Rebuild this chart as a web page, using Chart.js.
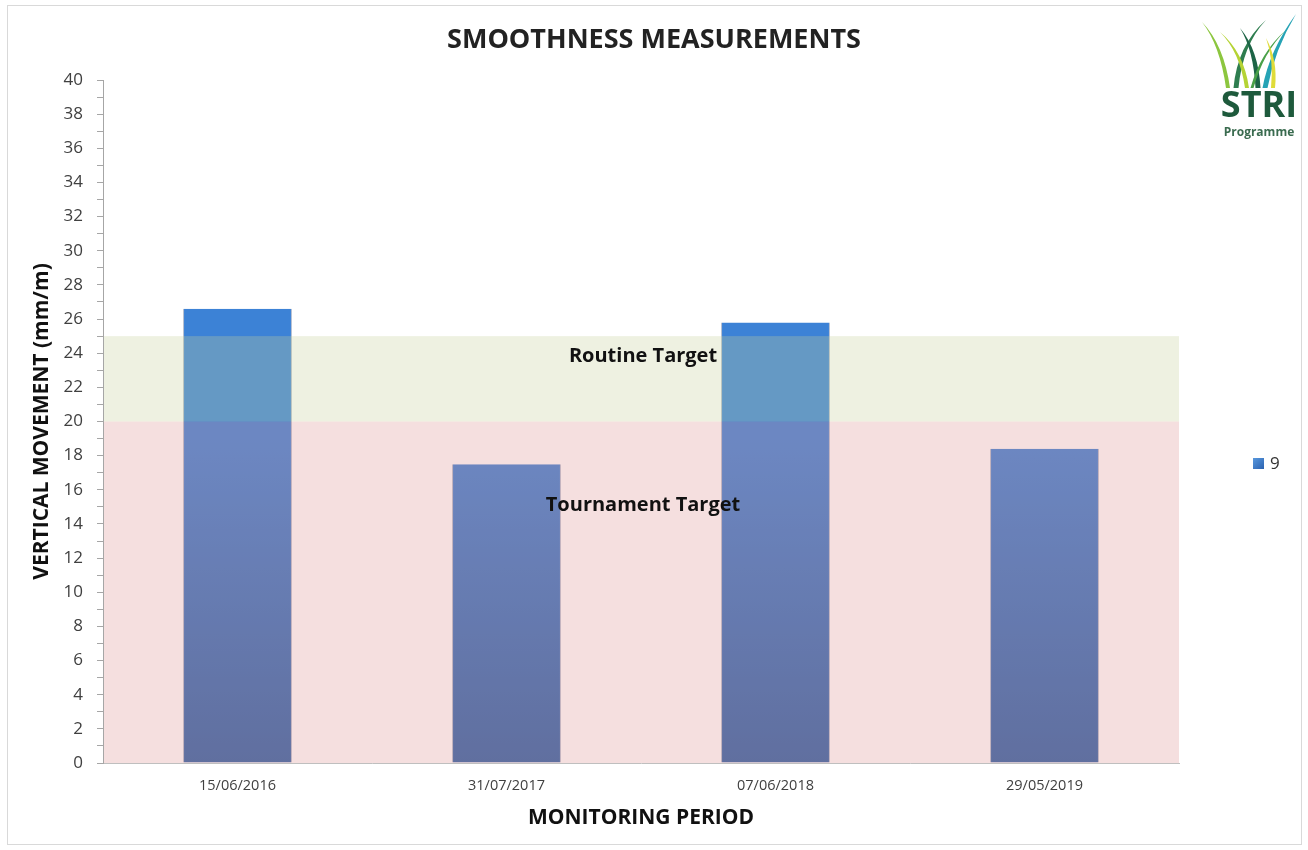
<!DOCTYPE html>
<html>
<head>
<meta charset="utf-8">
<title>Smoothness Measurements</title>
<script src="https://cdn.jsdelivr.net/npm/chart.js@4.4.1/dist/chart.umd.min.js"></script>
<style>
  html, body { margin: 0; padding: 0; background: #ffffff; }
  #wrap { width: 1308px; height: 850px; position: relative; }
  canvas { display: block; }
</style>
</head>
<body>
<div id="wrap"><canvas id="chart" width="1308" height="850"></canvas></div>
<script>
// Monitoring dates and measured vertical movement (mm/m)
const categories = ['15/06/2016', '31/07/2017', '07/06/2018', '29/05/2019'];
const seriesName = '9';
const movement = [26.6, 17.5, 25.8, 18.4];

// Target bands on the value axis
const tournamentBand = [0, 20];
const routineBand = [20, 25];
const bandLabels = ['Tournament Target', 'Routine Target'];
const bandLabelValues = [15.1, 23.8];

// Value axis range and step
const yMin = 0;
const yMax = 40;
const yLabelStep = 2;

const FONT = "'Open Sans', 'Liberation Sans', sans-serif";

// Vertical blue gradient for the bars
function barFill(context) {
  const chart = context.chart;
  const area = chart.chartArea;
  if (!area) return '#3d7ed0';
  const y = chart.scales.y;
  const g = chart.ctx.createLinearGradient(0, area.bottom, 0, y.getPixelForValue(19));
  g.addColorStop(0, '#2a5fa4');
  g.addColorStop(1, '#3c82d6');
  return g;
}

// Translucent target bands laid over the plot, plus their captions
const bandsPlugin = {
  id: 'targetBands',
  afterDatasetsDraw(chart) {
    const { ctx, chartArea: a, scales: { y } } = chart;
    const drawBand = (band, color) => {
      const top = y.getPixelForValue(band[1]);
      const bottom = y.getPixelForValue(band[0]);
      ctx.fillStyle = color;
      ctx.fillRect(a.left + 1, top, a.right - a.left - 1, bottom - top);
    };
    ctx.save();
    drawBand(tournamentBand, 'rgba(222, 148, 150, 0.30)');
    drawBand(routineBand, 'rgba(200, 210, 155, 0.30)');
    ctx.fillStyle = '#111111';
    ctx.font = "bold 20px " + FONT;
    ctx.textAlign = 'center';
    ctx.textBaseline = 'middle';
    const cx = (a.left + a.right) / 2 + 2;
    ctx.fillText(bandLabels[0], cx, y.getPixelForValue(bandLabelValues[0]));
    ctx.fillText(bandLabels[1], cx, y.getPixelForValue(bandLabelValues[1]));
    ctx.restore();
  }
};

// Tapered grass blade: base centre (bx, by), base width w, control (cx, cy), tip (tx, ty)
function blade(ctx, color, bx, by, w, cx, cy, tx, ty) {
  ctx.fillStyle = color;
  ctx.beginPath();
  ctx.moveTo(bx - w / 2, by);
  ctx.quadraticCurveTo(cx - w / 2, cy, tx, ty);
  ctx.quadraticCurveTo(cx + w / 2, cy, bx + w / 2, by);
  ctx.closePath();
  ctx.fill();
}

// Legend swatch, outer frame and the programme logo
const decorPlugin = {
  id: 'decor',
  afterDraw(chart) {
    const ctx = chart.ctx;
    ctx.save();

    // outer frame
    ctx.strokeStyle = '#d9d9d9';
    ctx.lineWidth = 1;
    ctx.strokeRect(7.5, 5.5, 1294, 839);

    // legend
    const lx = 1253, ly = 463;
    const lg = ctx.createLinearGradient(lx, ly - 6, lx + 11, ly + 6);
    lg.addColorStop(0, '#5b9be0');
    lg.addColorStop(1, '#2b62b0');
    ctx.fillStyle = lg;
    ctx.fillRect(lx, ly - 5, 11, 11);
    ctx.fillStyle = '#333333';
    ctx.font = "17px " + FONT;
    ctx.textAlign = 'left';
    ctx.textBaseline = 'middle';
    ctx.fillText(chart.data.datasets[0].label, lx + 17, ly + 1);

    // logo: grass blades
    blade(ctx, '#8cc63f', 1228, 88, 4, 1222, 45, 1202, 22);
    blade(ctx, '#2e7d4f', 1236, 88, 5, 1240, 45, 1266, 20);
    blade(ctx, '#b5d334', 1247, 88, 4, 1242, 52, 1220, 32);
    blade(ctx, '#1d6446', 1258, 88, 5, 1256, 50, 1240, 28);
    blade(ctx, '#4aa049', 1252, 88, 3, 1262, 52, 1286, 30);
    blade(ctx, '#26a3b5', 1265, 88, 5, 1272, 50, 1296, 14);
    blade(ctx, '#e0dc3a', 1273, 88, 4, 1276, 60, 1266, 38);

    // logo: lettering
    ctx.fillStyle = '#1e5a3c';
    ctx.textAlign = 'center';
    ctx.textBaseline = 'alphabetic';
    ctx.font = "bold 36px " + FONT;
    ctx.fillText('STRI', 1259, 117);
    ctx.font = "bold 12px " + FONT;
    ctx.fillStyle = '#3a6b4f';
    ctx.fillText('Programme', 1259, 136);

    ctx.restore();
  }
};

new Chart(document.getElementById('chart'), {
  type: 'bar',
  data: {
    labels: categories,
    datasets: [{
      label: seriesName,
      data: movement,
      backgroundColor: barFill,
      borderColor: 'rgba(40, 70, 120, 0.35)',
      borderWidth: { left: 1, right: 1, top: 0, bottom: 0 },
      barPercentage: 0.405,
      categoryPercentage: 1.0
    }]
  },
  options: {
    responsive: false,
    animation: false,
    layout: { padding: 0 },
    plugins: {
      legend: { display: false },
      tooltip: { enabled: false },
      title: {
        display: true,
        text: 'SMOOTHNESS MEASUREMENTS',
        color: '#222222',
        font: { family: FONT, size: 27, weight: 'bold', lineHeight: 1.2 },
        padding: { top: 24, bottom: 23.6 }
      }
    },
    scales: {
      x: {
        grid: { display: false, drawTicks: false },
        border: { display: true, color: '#bfbfbf', width: 1 },
        ticks: {
          color: '#404040',
          font: { family: FONT, size: 14.5 },
          padding: 14,
          maxRotation: 0
        },
        title: {
          display: true,
          text: 'MONITORING PERIOD',
          color: '#111111',
          font: { family: FONT, size: 21, weight: 'bold', lineHeight: 1.2 },
          padding: { top: 10, bottom: 19 }
        },
        afterFit(scale) { scale.height = 87; }
      },
      y: {
        min: yMin,
        max: yMax,
        grid: {
          display: true,
          drawOnChartArea: false,
          drawTicks: true,
          tickLength: 6,
          color: '#a6a6a6'
        },
        border: { display: true, color: '#a6a6a6', width: 1 },
        ticks: {
          stepSize: 1,
          autoSkip: false,
          color: '#404040',
          font: { family: FONT, size: 17 },
          padding: 14,
          callback: (v) => (v % yLabelStep === 0 ? String(v) : '')
        },
        title: {
          display: true,
          text: 'VERTICAL MOVEMENT (mm/m)',
          color: '#111111',
          font: { family: FONT, size: 21, weight: 'bold', lineHeight: 1.2 },
          padding: { top: 29, bottom: 4 }
        },
        afterFit(scale) { scale.width = 103; }
      },
      // empty right-hand box that keeps room for the legend and logo
      side: {
        type: 'linear',
        position: 'right',
        display: true,
        grid: { display: false },
        border: { display: false },
        ticks: { display: false },
        afterFit(scale) { scale.width = 129; }
      }
    }
  },
  plugins: [bandsPlugin, decorPlugin]
});
</script>
</body>
</html>
